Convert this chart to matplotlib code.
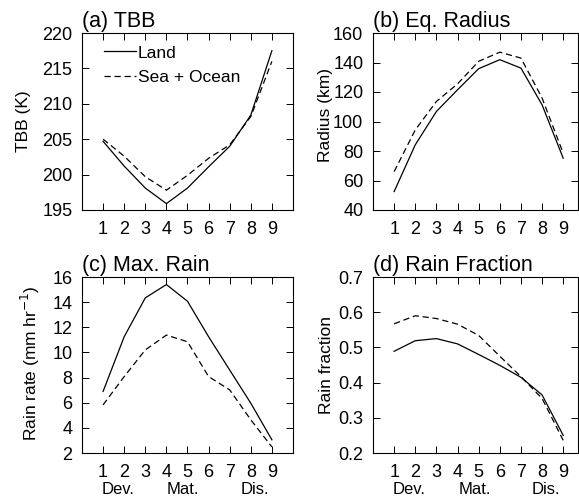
import matplotlib
matplotlib.use("Agg")
import matplotlib.pyplot as plt
import numpy as np

plt.rcParams['font.family'] = ['Liberation Sans', 'DejaVu Sans']

stages = [1, 2, 3, 4, 5, 6, 7, 8, 9]
stage_labels = ["Dev.", "Mat.", "Dis."]
stage_label_pos = [1.7, 4.8, 8.2]

tbb_land = [204.7, 201.2, 198.1, 195.9, 198.1, 201.1, 204.0, 208.4, 217.5]
tbb_sea = [205.0, 202.6, 199.7, 197.8, 199.9, 202.3, 204.2, 208.2, 216.0]

rad_land = [52.5, 84.2, 106.8, 121.5, 135.8, 141.9, 136.2, 111.3, 75.1]
rad_sea = [66.0, 94.3, 113.6, 125.5, 140.8, 147.0, 143.0, 115.9, 78.5]

rain_land = [6.9, 11.25, 14.34, 15.4, 14.07, 11.25, 8.6, 5.96, 3.05]
rain_sea = [5.83, 8.08, 10.2, 11.38, 10.85, 8.08, 7.02, 4.64, 2.48]

frac_land = [0.489, 0.519, 0.525, 0.510, 0.480, 0.449, 0.415, 0.365, 0.250]
frac_sea = [0.567, 0.590, 0.582, 0.566, 0.534, 0.475, 0.417, 0.355, 0.236]

W, H = 579, 499
fig = plt.figure(figsize=(W / 100, H / 100), dpi=100)

def px_axes(l, t, r, b):
    return fig.add_axes([l / W, 1 - b / H, (r - l) / W, (b - t) / H])

panels = [
    dict(box=(82, 33, 293, 210), xlim=(0, 10), land=tbb_land, sea=tbb_sea,
         ylim=(195, 220), yticks=np.arange(195, 221, 5), title="(a) TBB",
         ylabel="TBB (K)", fmt="{:.0f}", bottom_labels=False, legend=True,
         lab=(-0.242, 0.5)),
    dict(box=(373, 33, 578, 210), xlim=(0, 9.7), land=rad_land, sea=rad_sea,
         ylim=(40, 160), yticks=np.arange(40, 161, 20), title="(b) Eq. Radius",
         ylabel="Radius (km)", fmt="{:.0f}", bottom_labels=False, legend=False,
         lab=(-0.195, 0.535)),
    dict(box=(82, 277, 293, 453), xlim=(0, 10), land=rain_land, sea=rain_sea,
         ylim=(2, 16), yticks=np.arange(2, 17, 2), title="(c) Max. Rain",
         ylabel="Rain rate (mm hr$^{-1}$)", fmt="{:.0f}", bottom_labels=True, legend=False,
         lab=(-0.19, 0.51)),
    dict(box=(373, 277, 578, 453), xlim=(0, 9.7), land=frac_land, sea=frac_sea,
         ylim=(0.2, 0.7), yticks=np.arange(0.2, 0.71, 0.1), title="(d) Rain Fraction",
         ylabel="Rain fraction", fmt="{:.1f}", bottom_labels=True, legend=False,
         lab=(-0.19, 0.5)),
]

for p in panels:
    ax = px_axes(*p["box"])
    ax.plot(stages, p["land"], color="black", lw=0.9, ls="-", label="Land")
    ax.plot(stages, p["sea"], color="black", lw=0.9, ls=(0, (5, 3)), label="Sea + Ocean")
    ax.set_xlim(*p["xlim"])
    ax.set_ylim(*p["ylim"])
    ax.set_xticks(stages)
    ax.set_xticklabels([str(s) for s in stages])
    ax.set_yticks(p["yticks"])
    ax.set_yticklabels([p["fmt"].format(v) for v in p["yticks"]])
    ax.tick_params(direction="in", top=True, right=True, length=5, width=0.7,
                   labelsize=13, colors="black")
    ax.tick_params(axis="y", pad=7)
    ax.tick_params(axis="x", pad=8)
    for s in ax.spines.values():
        s.set_linewidth(0.8)
    ax.set_title(p["title"], loc="left", fontsize=15.5, pad=4)
    ax.set_ylabel(p["ylabel"], fontsize=12.5)
    ax.yaxis.set_label_coords(*p["lab"])
    if p["bottom_labels"]:
        for lab, xp in zip(stage_labels, stage_label_pos):
            ax.text(xp, -0.205, lab, transform=ax.get_xaxis_transform(),
                    ha="center", va="center", fontsize=12)
    if p["legend"]:
        ax.legend(loc="upper left", bbox_to_anchor=(0.104, 0.93), frameon=False,
                  fontsize=12.5, handlelength=1.85, handletextpad=0.1,
                  labelspacing=0.55, borderpad=0, borderaxespad=0)

fig.savefig("out.png", dpi=100)
